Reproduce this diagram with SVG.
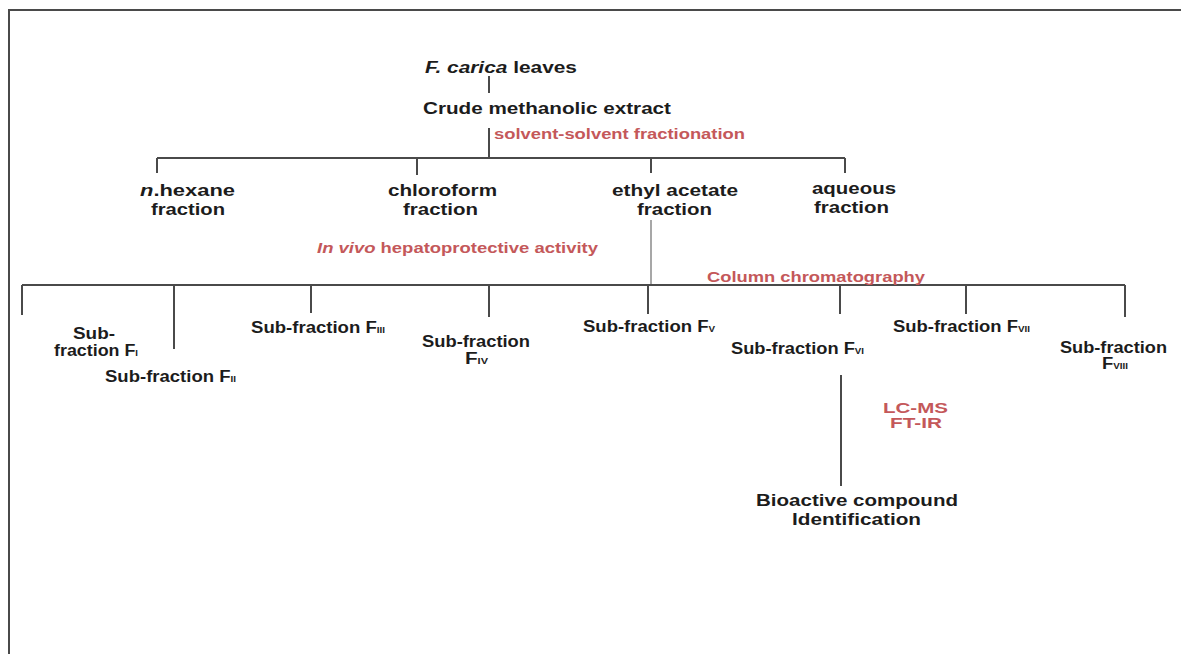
<svg xmlns="http://www.w3.org/2000/svg" width="1181" height="654" viewBox="0 0 1181 654">
<style>
text{font-family:"Liberation Sans",Arial,sans-serif;font-weight:bold;font-size:16px;fill:#1c1c1c}
.r{fill:#c4585a;font-size:14.5px}
.s{font-size:8.5px}
.ln{stroke:#4a4a4a;stroke-width:2;fill:none}
.lt{stroke:#8a8a8a;stroke-width:1.5;fill:none}
</style>
<rect width="1181" height="654" fill="#fff"/>
<g id="frame"><path class="ln" d="M9,654 V10 H1181" stroke="#555"/></g>
<g id="connectors">
<path class="ln" d="M489,76 V93"/>
<path class="ln" d="M489,128 V158"/>
<path class="ln" d="M157,158 H845 M157,158 V173 M417,158 V175 M651,158 V173 M845,158 V173"/>
<path class="lt" d="M651,220 V285"/>
<path class="ln" d="M22,285 H1125 M22,285 V315 M174,285 V349 M311,285 V313 M489,285 V317 M648,285 V314 M840,285 V314 M966,285 V314 M1125,285 V317"/>
<path class="ln" d="M841,375 V486"/>
</g>
<g id="n-leaves"><text x="425" y="73" textLength="152" lengthAdjust="spacingAndGlyphs"><tspan font-style="italic">F. carica</tspan> leaves</text></g>
<g id="n-crude"><text x="423" y="114" textLength="248" lengthAdjust="spacingAndGlyphs">Crude methanolic extract</text></g>
<g id="l-solvent"><text class="r" x="494" y="139" textLength="251" lengthAdjust="spacingAndGlyphs">solvent-solvent fractionation</text></g>
<g id="n-hexane"><text x="140" y="196" textLength="95" lengthAdjust="spacingAndGlyphs"><tspan font-style="italic">n</tspan>.hexane</text><text x="151" y="215" textLength="74" lengthAdjust="spacingAndGlyphs">fraction</text></g>
<g id="n-chloroform"><text x="388" y="196" textLength="109" lengthAdjust="spacingAndGlyphs">chloroform</text><text x="403" y="215" textLength="75" lengthAdjust="spacingAndGlyphs">fraction</text></g>
<g id="n-ethyl"><text x="612" y="196" textLength="126" lengthAdjust="spacingAndGlyphs">ethyl acetate</text><text x="637" y="215" textLength="75" lengthAdjust="spacingAndGlyphs">fraction</text></g>
<g id="n-aqueous"><text x="812" y="194" textLength="84" lengthAdjust="spacingAndGlyphs">aqueous</text><text x="814" y="213" textLength="75" lengthAdjust="spacingAndGlyphs">fraction</text></g>
<g id="l-invivo"><text class="r" x="317" y="253" textLength="281" lengthAdjust="spacingAndGlyphs"><tspan font-style="italic">In vivo</tspan> hepatoprotective activity</text></g>
<g id="l-column"><text class="r" x="707" y="282" textLength="218" lengthAdjust="spacingAndGlyphs">Column chromatography</text></g>
<g id="n-f1"><text x="73" y="339" textLength="42" lengthAdjust="spacingAndGlyphs">Sub-</text><text x="54" y="356" textLength="84" lengthAdjust="spacingAndGlyphs">fraction F<tspan class="s">I</tspan></text></g>
<g id="n-f2"><text x="105" y="382" textLength="131" lengthAdjust="spacingAndGlyphs">Sub-fraction F<tspan class="s">II</tspan></text></g>
<g id="n-f3"><text x="251" y="333" textLength="134" lengthAdjust="spacingAndGlyphs">Sub-fraction F<tspan class="s">III</tspan></text></g>
<g id="n-f4"><text x="422" y="347" textLength="108" lengthAdjust="spacingAndGlyphs">Sub-fraction</text><text x="465" y="364" textLength="23" lengthAdjust="spacingAndGlyphs">F<tspan class="s">IV</tspan></text></g>
<g id="n-f5"><text x="583" y="332" textLength="132" lengthAdjust="spacingAndGlyphs">Sub-fraction F<tspan class="s">V</tspan></text></g>
<g id="n-f6"><text x="731" y="354" textLength="133" lengthAdjust="spacingAndGlyphs">Sub-fraction F<tspan class="s">VI</tspan></text></g>
<g id="n-f7"><text x="893" y="332" textLength="137" lengthAdjust="spacingAndGlyphs">Sub-fraction F<tspan class="s">VII</tspan></text></g>
<g id="n-f8"><text x="1060" y="353" textLength="107" lengthAdjust="spacingAndGlyphs">Sub-fraction</text><text x="1102" y="369" textLength="26" lengthAdjust="spacingAndGlyphs">F<tspan class="s">VIII</tspan></text></g>
<g id="l-lcms"><text class="r" x="883" y="413" textLength="65" lengthAdjust="spacingAndGlyphs">LC-MS</text><text class="r" x="890" y="428" textLength="52" lengthAdjust="spacingAndGlyphs">FT-IR</text></g>
<g id="n-bioactive"><text x="756" y="506" textLength="202" lengthAdjust="spacingAndGlyphs">Bioactive compound</text><text x="792" y="525" textLength="129" lengthAdjust="spacingAndGlyphs">Identification</text></g>
</svg>
